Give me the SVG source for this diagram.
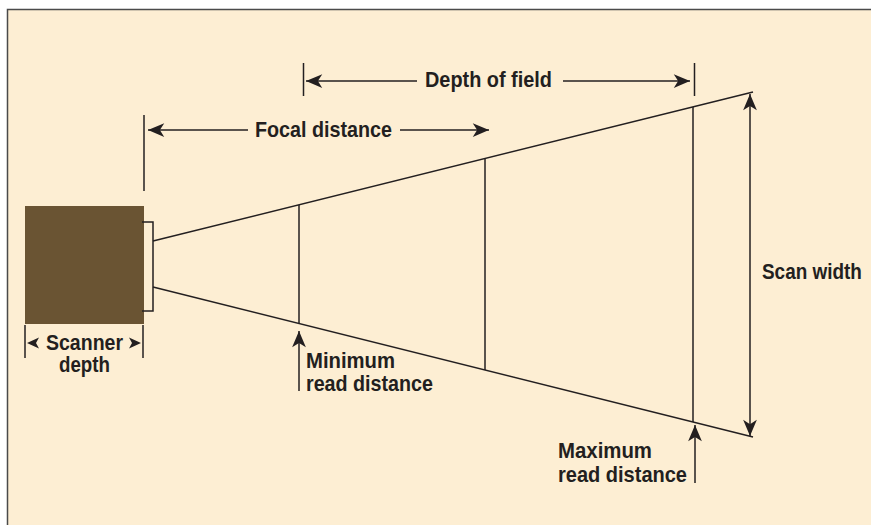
<svg xmlns="http://www.w3.org/2000/svg" width="871" height="525" viewBox="0 0 871 525">
<defs>
<style>
.ln{stroke:#231f20;stroke-width:1.5;fill:none}
.ar{stroke:#231f20;stroke-width:1.5;fill:none;marker-end:url(#ah)}
.t{font-family:"Liberation Sans Narrow","Liberation Sans",Arial,sans-serif;font-weight:bold;font-size:21.5px;fill:#231f20}
</style>
<marker id="ah" markerUnits="userSpaceOnUse" markerWidth="20" markerHeight="20" viewBox="-14 -7 16 14" refX="0" refY="0" orient="auto">
<path d="M0,0 L-13,-5.5 L-9.5,0 L-13,5.5 Z" fill="#231f20"/>
</marker>
</defs>
<rect x="7.5" y="9.5" width="900" height="600" fill="#fdeed3" stroke="#4a4a4a" stroke-width="1.5"/>
<g id="scanner">
<rect x="25" y="206" width="119" height="118" fill="#6a5433"/>
<path class="ln" d="M142,222 H153 V311 H142"/>
</g>
<g id="beam">
<line class="ln" x1="153" y1="241" x2="753" y2="92"/>
<line class="ln" x1="153" y1="287" x2="753" y2="437"/>
<line class="ln" x1="299" y1="205" x2="299" y2="323"/>
<line class="ln" x1="485" y1="158" x2="485" y2="370"/>
<line class="ln" x1="693" y1="107" x2="693" y2="422"/>
</g>
<g id="connectors">
<line class="ln" x1="144" y1="115" x2="144" y2="191"/>
<line class="ar" x1="248" y1="130" x2="148" y2="130"/>
<line class="ar" x1="400" y1="130" x2="489" y2="130"/>
<line class="ln" x1="303.5" y1="63" x2="303.5" y2="96"/>
<line class="ar" x1="417" y1="81" x2="306" y2="81"/>
<line class="ar" x1="563" y1="81" x2="690" y2="81"/>
<line class="ln" x1="694.5" y1="63" x2="694.5" y2="96"/>
<line class="ar" x1="750" y1="265" x2="750" y2="94"/>
<line class="ar" x1="750" y1="265" x2="750" y2="436"/>
<line class="ar" x1="299" y1="391" x2="299" y2="331"/>
<line class="ar" x1="695" y1="483" x2="695" y2="425"/>
<line class="ln" x1="25" y1="325" x2="25" y2="358"/>
<line class="ln" x1="143" y1="325" x2="143" y2="358"/>
<path d="M27,343 L39,337.5 L36,343 L39,348.5 Z" fill="#231f20"/>
<path d="M141,343 L129,337.5 L132,343 L129,348.5 Z" fill="#231f20"/>
</g>
<g id="labels">
<text class="t" x="255" y="137" textLength="137" lengthAdjust="spacingAndGlyphs">Focal distance</text>
<text class="t" x="425" y="87" textLength="127" lengthAdjust="spacingAndGlyphs">Depth of field</text>
<text class="t" transform="translate(762,279) scale(0.88,1)" x="0" y="0">Scan width</text>
<text class="t" x="306" y="368" textLength="89" lengthAdjust="spacingAndGlyphs">Minimum</text>
<text class="t" x="306" y="391" textLength="127" lengthAdjust="spacingAndGlyphs">read distance</text>
<text class="t" x="558" y="458" textLength="94" lengthAdjust="spacingAndGlyphs">Maximum</text>
<text class="t" x="558" y="482" textLength="129" lengthAdjust="spacingAndGlyphs">read distance</text>
<text class="t" x="46" y="350" textLength="77" lengthAdjust="spacingAndGlyphs">Scanner</text>
<text class="t" x="59" y="372" textLength="51" lengthAdjust="spacingAndGlyphs">depth</text>
</g>
</svg>
